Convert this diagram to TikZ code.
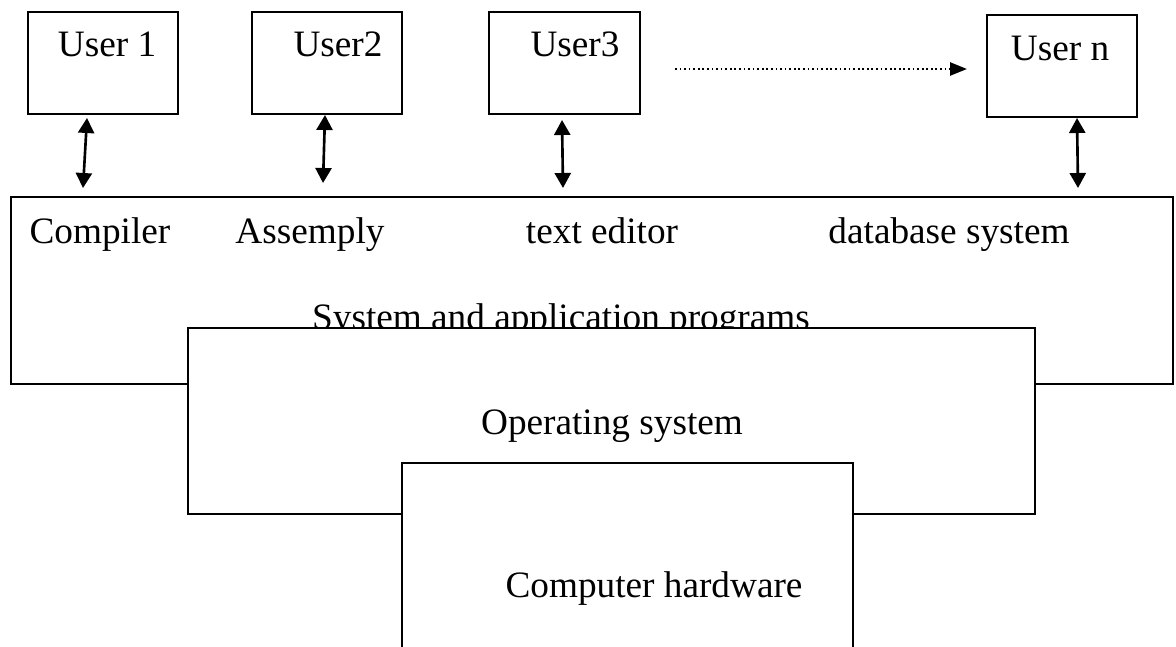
\documentclass[tikz,border=0pt]{standalone}
\usepackage{fontspec}
\setmainfont{Liberation Serif}
\usepackage{tikz}
\usetikzlibrary{arrows.meta,positioning}

\begin{document}
\begin{tikzpicture}[
    every node/.style={font=\fontsize{10.6}{12.7}\selectfont, inner sep=0pt},
    userbox/.style={draw, line width=0.6pt, minimum width=1.5cm, minimum height=1.02cm},
    layer/.style={draw, line width=0.6pt, fill=white},
    lbl/.style={anchor=base},
    link/.style={{Triangle[length=1.5mm, width=1.6mm]}-{Triangle[length=1.5mm, width=1.6mm]}, line width=0.75pt},
  ]
  \useasboundingbox (0, 0) rectangle (11.76, 6.46);

  % users
  \node[userbox] (u1) at (1.03, 5.83) {};
  \node[userbox] (u2) at (3.27, 5.83) {};
  \node[userbox, minimum width=1.51cm] (u3) at (5.645, 5.83) {};
  \node[userbox] (un) at (10.62, 5.80) {};
  \node[lbl] (u1t) at (1.07, 5.89) {User 1};
  \node[lbl] (u2t) at (3.38, 5.89) {User2};
  \node[lbl] (u3t) at (5.75, 5.89) {User3};
  \node[lbl] (unt) at (10.60, 5.86) {User n};

  % arrow ends
  \coordinate (a1) at (0.87, 5.28);
  \coordinate (b1) at (0.83, 4.58);
  \coordinate (a2) at (3.25, 5.31);
  \coordinate (b2) at (3.23, 4.63);
  \coordinate (a3) at (5.62, 5.26);
  \coordinate (b3) at (5.63, 4.58);
  \coordinate (an) at (10.77, 5.28);
  \coordinate (bn) at (10.78, 4.58);
  \coordinate (dots) at (6.75, 5.77);
  \coordinate (dote) at (9.67, 5.77);

  \draw[link] (a1) to (b1);
  \draw[link] (a2) to (b2);
  \draw[link] (a3) to (b3);
  \draw[link] (an) to (bn);
  \draw[-{Triangle[length=1.7mm, width=1.3mm]}, line width=0.7pt, dash pattern=on 0.5pt off 0.8pt] (dots) to (dote);

  % programs
  \node[layer, minimum width=11.62cm, minimum height=1.87cm] (prog) at (5.92, 3.555) {};
  \node[lbl] (comp) at (1.00, 4.03) {Compiler};
  \node[lbl] (asm) at (3.10, 4.03) {Assemply};
  \node[lbl] (edit) at (6.02, 4.03) {text editor};
  \node[lbl] (db) at (9.49, 4.03) {database system};
  \node[lbl] (progt) at (5.61, 3.17) {System and application programs};

  % operating system
  \node[layer, minimum width=8.47cm, minimum height=1.86cm] (os) at (6.115, 2.25) {};
  \node[lbl] (ost) at (6.12, 2.12) {Operating system};

  % hardware, open at the bottom
  \node[fill=white, minimum width=4.49cm, minimum height=1.82cm] (hw) at (6.275, 0.91) {};
  \draw[line width=0.6pt] (hw.south west) -- (hw.north west) -- (hw.north east) -- (hw.south east);
  \node[lbl] (hwt) at (6.54, 0.49) {Computer hardware};
\end{tikzpicture}
\end{document}
